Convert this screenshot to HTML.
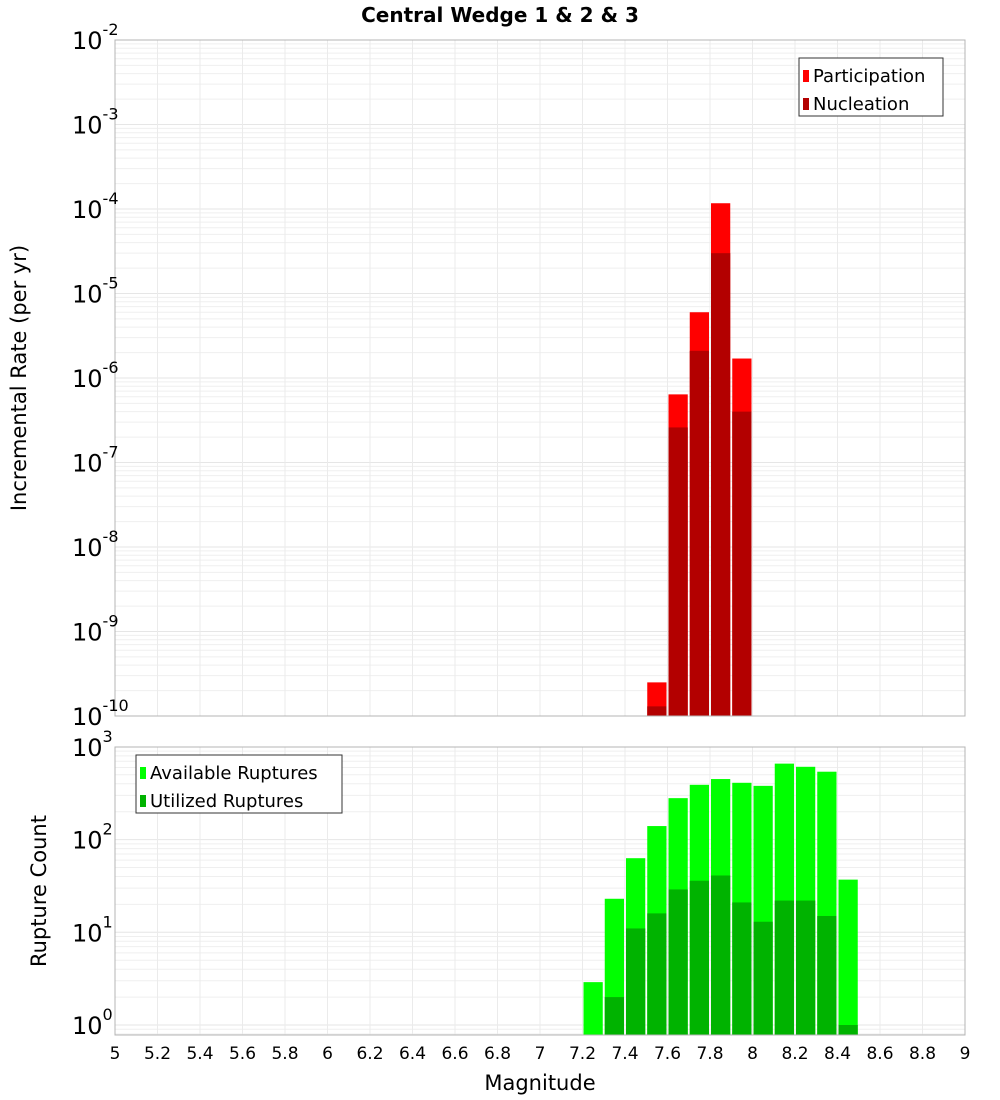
<!DOCTYPE html>
<html><head><meta charset="utf-8"><style>
body{margin:0;background:#fff;}
svg{display:block;font-family:"DejaVu Sans","Liberation Sans",sans-serif;}
</style></head><body>
<svg id="chart" width="1000" height="1100" viewBox="0 0 1000 1100"></svg>
<script>
const binCenters1 = [7.55, 7.65, 7.75, 7.85, 7.95];
const participation = [2.5e-10, 6.4e-7, 6.0e-6, 1.17e-4, 1.7e-6];
const nucleation = [1.3e-10, 2.6e-7, 2.1e-6, 3.0e-5, 4.0e-7];
const binCenters2 = [7.25, 7.35, 7.45, 7.55, 7.65, 7.75, 7.85, 7.95, 8.05, 8.15, 8.25, 8.35, 8.45];
const available = [2.9, 23, 63, 140, 280, 390, 450, 410, 380, 660, 610, 540, 37];
const utilized = [0, 2, 11, 16, 29, 36, 41, 21, 13, 22, 22, 15, 1];
const xTicks = [5,5.2,5.4,5.6,5.8,6,6.2,6.4,6.6,6.8,7,7.2,7.4,7.6,7.8,8,8.2,8.4,8.6,8.8,9];
const yExp1 = [-2,-3,-4,-5,-6,-7,-8,-9,-10];
const yExp2 = [3,2,1,0];

const NS='http://www.w3.org/2000/svg';
const svg=document.getElementById('chart');
function mk(tag,attrs,parent,name,inter){
  const e=document.createElementNS(NS,tag);
  for(const k in attrs)e.setAttribute(k,attrs[k]);
  
  
  (parent||svg).appendChild(e);return e;
}
const L=115,R=965;
const xs=v=>L+(v-5)/4*(R-L);
// panel 1
const T1=40,B1=716, y1=v=>T1+(-2-Math.log10(v))*(B1-T1)/8;
// panel 2
const T2=747,B2=1035, dec2=92.7, y2=v=>1025-Math.log10(v)*dec2;

function grid(T,B,ys,lo,hi,name){
  const g=mk('g',{},svg,name,false);
  for(let e=lo;e<hi;e++){for(let m=1;m<10;m++){const v=m*Math.pow(10,e);const y=ys(v);if(y<T||y>B)continue;
    mk('line',{x1:L,x2:R,y1:y,y2:y,stroke:m==1?'#e6e6e6':'#efefef','stroke-width':1},g,'h-gridline',false);}}
  xTicks.forEach(t=>{const x=xs(t);mk('line',{x1:x,x2:x,y1:T,y2:B,stroke:'#ebebeb','stroke-width':1},g,'v-gridline',false);});
}
grid(T1,B1,y1,-10,-1,'top-grid');
grid(T2,B2,y2,-1,4,'bottom-grid');

const bw=(R-L)/40;
const bars1=mk('g',{},svg,'rate-bars',false);
binCenters1.forEach((c,i)=>{
  const x=xs(c)-bw/2+1,w=bw-2;
  let yt=y1(participation[i]);mk('rect',{x:x,y:yt,width:w,height:B1-yt,fill:'#ff0000'},bars1,'participation-bar',false);
  yt=y1(nucleation[i]);mk('rect',{x:x,y:yt,width:w,height:B1-yt,fill:'#b30000'},bars1,'nucleation-bar',false);
});
const bars2=mk('g',{},svg,'count-bars',false);
binCenters2.forEach((c,i)=>{
  const x=xs(c)-bw/2+1,w=bw-2;
  let yt=y2(available[i]);mk('rect',{x:x,y:yt,width:w,height:B2-yt,fill:'#00ff00'},bars2,'available-bar',false);
  if(utilized[i]>0){yt=y2(utilized[i]);mk('rect',{x:x,y:yt,width:w,height:B2-yt,fill:'#00b300'},bars2,'utilized-bar',false);}
});
mk('rect',{x:L,y:T1,width:R-L,height:B1-T1,fill:'none',stroke:'#b4b4b4','stroke-width':1},svg,'top-plot-border',false);
mk('rect',{x:L,y:T2,width:R-L,height:B2-T2,fill:'none',stroke:'#b4b4b4','stroke-width':1},svg,'bottom-plot-border',false);

function ylab(y,exp,name){
  const t=mk('text',{x:108,y:y+9,'text-anchor':'end','font-size':24,fill:'#000'},svg,name,false);
  const a=document.createElementNS(NS,'tspan');a.textContent='10';t.appendChild(a);
  const b=document.createElementNS(NS,'tspan');b.setAttribute('dy','-14');b.setAttribute('font-size','16');b.textContent=String(exp);t.appendChild(b);
  t.setAttribute('text-anchor','start');
  t.setAttribute('x',72);
}
yExp1.forEach(e=>ylab(y1(Math.pow(10,e)),e,'y-tick-label'));
yExp2.forEach(e=>ylab(y2(Math.pow(10,e)),e,'y2-tick-label'));
xTicks.forEach(t=>{const el=mk('text',{x:xs(t),y:1059,'text-anchor':'middle','font-size':17,fill:'#000'},svg,'x-tick-label',false);el.textContent=String(t);});

let el=mk('text',{x:500,y:22,'text-anchor':'middle','font-size':20,'font-weight':'bold'},svg,'chart-title',false);el.textContent='Central Wedge 1 & 2 & 3';
el=mk('text',{x:540,y:1090,'text-anchor':'middle','font-size':21},svg,'x-axis-title',false);el.textContent='Magnitude';
el=mk('text',{x:0,y:0,'text-anchor':'middle','font-size':21,transform:'translate(26,378) rotate(-90)'},svg,'y-axis-title',false);el.textContent='Incremental Rate (per yr)';
el=mk('text',{x:0,y:0,'text-anchor':'middle','font-size':21,transform:'translate(46,891) rotate(-90)'},svg,'y2-axis-title',false);el.textContent='Rupture Count';

function legend(x,y,w,items,name){
  const g=mk('g',{},svg,name,false);
  mk('rect',{x:x,y:y,width:w,height:58,fill:'#fff',stroke:'#333','stroke-width':1},g,'legend-box',false);
  items.forEach((it,i)=>{
    mk('rect',{x:x+4,y:y+12+i*28,width:6,height:12,fill:it[1]},g,'legend-swatch',false);
    const t=mk('text',{x:x+14,y:y+24+i*28,'font-size':18},g,'legend-entry',false);t.textContent=it[0];
  });
}
legend(799,58,144,[['Participation','#ff0000'],['Nucleation','#b30000']],'top-legend');
legend(136,755,206,[['Available Ruptures','#00ff00'],['Utilized Ruptures','#00b300']],'bottom-legend');
</script>
</body></html>
